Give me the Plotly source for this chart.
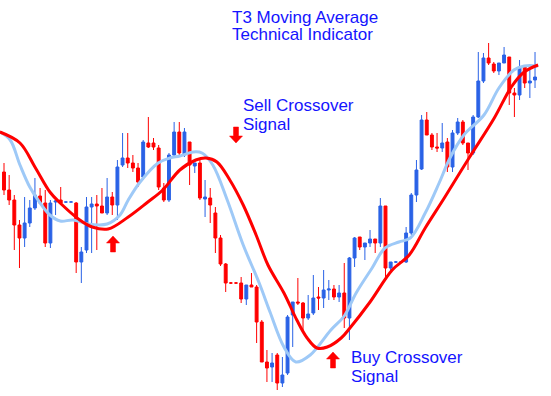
import plotly.graph_objects as go

# ---- candle data (price units) ----
opens = [228,210,200,175,162,177,192,204,197,157,198,200,198,198,197,138,150,193,196,194,
         187,203,195,235,242,237,232,223,257,257,252,212,200,245,268,245,258,234,237,201,
         202,187,162,136,117,117,117,101,115,113,78,38,33,45,17,27,85,98,97,82,
         87,103,102,110,111,103,107,82,142,163,153,157,161,157,194,132,138,138,138,167,
         205,231,280,265,253,252,258,233,267,278,257,247,283,319,342,336,329,337,343,307,
         305,333,317,320]
highs = [237,225,205,180,203,200,222,212,210,200,200,213,198,199,198,153,203,203,205,212,
         222,208,240,267,267,245,237,260,283,262,255,217,247,278,278,272,258,237,240,220,
         212,193,165,137,118,118,123,115,127,115,80,50,47,47,43,85,98,122,98,105,
         125,113,130,120,115,115,137,143,163,163,157,170,161,202,194,138,139,139,173,207,
         240,285,288,267,267,277,262,270,282,280,257,285,348,347,357,338,337,353,343,312,
         340,335,332,348]
lows = [205,195,150,132,153,173,190,197,153,152,185,195,197,198,127,117,147,147,150,187,
        185,185,180,233,232,228,213,220,252,250,210,198,198,243,243,243,215,227,200,183,
        177,147,134,108,116,116,97,95,113,57,38,18,18,10,13,25,53,95,68,80,
        85,90,92,100,100,98,72,60,133,150,140,153,147,153,123,128,137,137,137,165,
        198,230,265,250,248,248,228,228,265,255,230,245,282,317,335,327,325,337,295,283,
        300,312,302,312]
closes = [210,200,175,162,177,192,205,197,157,197,199,197,198,198,138,148,193,196,194,187,
          203,195,233,242,237,232,218,258,253,253,213,200,245,268,247,268,235,237,202,203,
          195,162,136,117,117,117,101,115,113,78,38,32,37,17,25,83,98,97,82,86,
          102,102,110,111,103,107,82,142,162,153,157,161,157,194,132,138,138,138,167,205,
          230,280,265,253,252,257,233,267,278,257,247,283,319,342,337,329,337,345,307,305,
          333,317,319,323]
candle_index = list(range(len(opens)))

# ---- T3 lines ----
slow_x = [-0.8,3.1,6.0,8.9,10.9,14.7,17.1,20.2,24.1,27.9,30.8,34.1,37.2,39.2,41.3,43.8,
          46.4,48.9,51.2,54.3,56.8,58.8,60.7,62.7,65.4,67.1,71.0,75.3,78.6,81.7,85.4,
          90.2,95.1,98.4,100.9,103.6]
slow_y = [268,257,233,208,197,180,173,171,183,198,210,230,240,242,238,220,
          195,165,135,107,80,62,52,53,62,72,98,130,145,172,202,
          242,282,313,328,335]
fast_x = [-0.8,1.2,3.1,5.0,7.0,8.9,10.9,13.4,16.3,20.0,22.5,24.1,26.4,29.9,32.2,34.1,
          36.7,38.4,40.5,43.3,46.4,49.5,51.6,54.3,56.6,59.4,63.4,66.0,68.3,71.4,73.9,
          76.6,78.8,81.7,84.4,86.5,89.2,93.1,96.0,98.9,100.9,103.6]
fast_y = [268,260,235,213,197,185,179,180,176,176,185,200,218,237,242,244,
          248,247,235,200,155,117,88,53,38,45,70,84,107,132,152,
          158,162,187,217,242,265,285,312,330,334,334]

RED = "#FF0000"
BLUE = "#2A62E6"
TXT = "#1414FF"

fig = go.Figure()
fig.add_trace(go.Candlestick(
    x=candle_index, open=opens, high=highs, low=lows, close=closes,
    increasing=dict(line=dict(color=BLUE, width=1), fillcolor=BLUE),
    decreasing=dict(line=dict(color=RED, width=1), fillcolor=RED),
    whiskerwidth=0, showlegend=False, hoverinfo="skip"))
fig.add_trace(go.Scatter(x=fast_x, y=fast_y, mode="lines",
                         line=dict(color="#9EC9F7", width=3, shape="spline", smoothing=1),
                         showlegend=False, hoverinfo="skip"))
fig.add_trace(go.Scatter(x=slow_x, y=slow_y, mode="lines",
                         line=dict(color=RED, width=3, shape="spline", smoothing=1),
                         showlegend=False, hoverinfo="skip"))

W, H = 551, 396

def px(x):
    return x / W

def py(y):
    return 1 - y / H

texts = [("T3 Moving Average", 230, 17), ("Technical Indicator", 230, 35),
         ("Sell Crossover", 241, 105), ("Signal", 241, 124),
         ("Buy Crossover", 349, 357), ("Signal", 349, 376)]
ann = []
for t, x, y in texts:
    ann.append(dict(text=t, x=px(x), y=py(y), xref="paper", yref="paper",
                    xanchor="left", yanchor="middle", showarrow=False,
                    font=dict(family="Liberation Sans, Arial", size=17, color=TXT)))


def block_arrow(cx, tip, direction, length=16, head=7, hw=6.5, sw=2.5):
    # direction: -1 -> pointing up (tip at top), +1 -> pointing down (tip at bottom)
    d = -direction
    base = tip + d * head
    end = tip + d * length
    pts = [(cx, tip), (cx + hw, base), (cx + sw, base), (cx + sw, end),
           (cx - sw, end), (cx - sw, base), (cx - hw, base)]
    path = "M " + " L ".join(f"{px(x):.5f},{py(y):.5f}" for x, y in pts) + " Z"
    return dict(type="path", path=path, xref="paper", yref="paper",
                fillcolor=RED, line=dict(color=RED, width=0.5), layer="above")

shapes = [block_arrow(236, 143, +1), block_arrow(113, 236, -1), block_arrow(333, 352, -1)]

fig.update_layout(
    width=W, height=H, margin=dict(l=0, r=0, t=0, b=0),
    paper_bgcolor="white", plot_bgcolor="white",
    xaxis=dict(visible=False, range=[-0.776, 106.1], rangeslider=dict(visible=False)),
    yaxis=dict(visible=False, range=[4, 400]),
    boxgap=0.2, annotations=ann, shapes=shapes, showlegend=False)

fig.write_html("out.html", config={"displayModeBar": False},
               post_script="document.body.style.margin='0';document.body.style.overflow='hidden';")
